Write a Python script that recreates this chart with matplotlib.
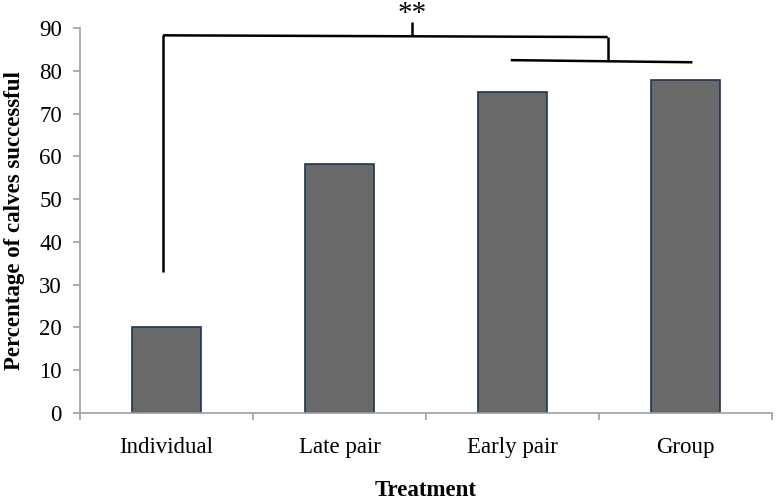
import numpy as np
from matplotlib import pyplot as plt

categories = ["Individual", "Late pair", "Early pair", "Group"]
percent_successful = [20, 58.3, 75, 77.8]
y_ticks = [0, 10, 20, 30, 40, 50, 60, 70, 80, 90]

plt.rcParams['font.family'] = ['Liberation Serif', 'DejaVu Serif']

fig = plt.figure(figsize=(7.77, 5.01), dpi=100)
ax = fig.add_axes([0.103, 0.1756, 0.8906, 0.7684])

x = np.arange(len(categories))
ax.bar(x, percent_successful, width=0.4, color="#696969", edgecolor="#1f3550", linewidth=1.2)

ax.set_xlim(-0.5, len(categories) - 0.5)
ax.set_ylim(0, 90)
ax.set_yticks(y_ticks)
ax.set_yticklabels([str(t) for t in y_ticks], fontsize=16.5)

# category ticks sit between the bars
ax.set_xticks(x)
ax.set_xticklabels(categories, fontsize=16.5)
ax.set_xticks(np.arange(len(categories) + 1) - 0.5, minor=True)
ax.tick_params(axis='x', which='major', length=0, pad=17)
ax.tick_params(axis='x', which='minor', length=5, color="#a0a0a0", width=1.2)
ax.tick_params(axis='y', length=5, color="#a0a0a0", width=1.2, pad=8)

for s in ["top", "right"]:
    ax.spines[s].set_visible(False)
for s in ["left", "bottom"]:
    ax.spines[s].set_color("#a0a0a0")
    ax.spines[s].set_linewidth(1.2)

ax.set_ylabel("Percentage of calves successful", fontsize=16.5, fontweight='bold')
ax.yaxis.set_label_coords(-0.079, 0.5)
ax.set_xlabel("Treatment", fontsize=16.5, fontweight='bold')
ax.xaxis.set_label_coords(0.5, -0.175)

# significance brackets
kw = dict(color="black", lw=1.8, clip_on=False, solid_capstyle='butt')
ax.plot([-0.02, -0.02], [33, 88.3], **kw)
ax.plot([-0.02, 2.55], [88.3, 87.9], **kw)
ax.plot([2.55, 2.55], [87.9, 82.3], **kw)
ax.plot([1.99, 3.04], [82.5, 82.0], **kw)
ax.plot([1.42, 1.42], [88.1, 91.4], **kw)
ax.text(1.42, 90.2, "**", ha='center', va='bottom', fontsize=21)

fig.savefig("out.png", dpi=100)
